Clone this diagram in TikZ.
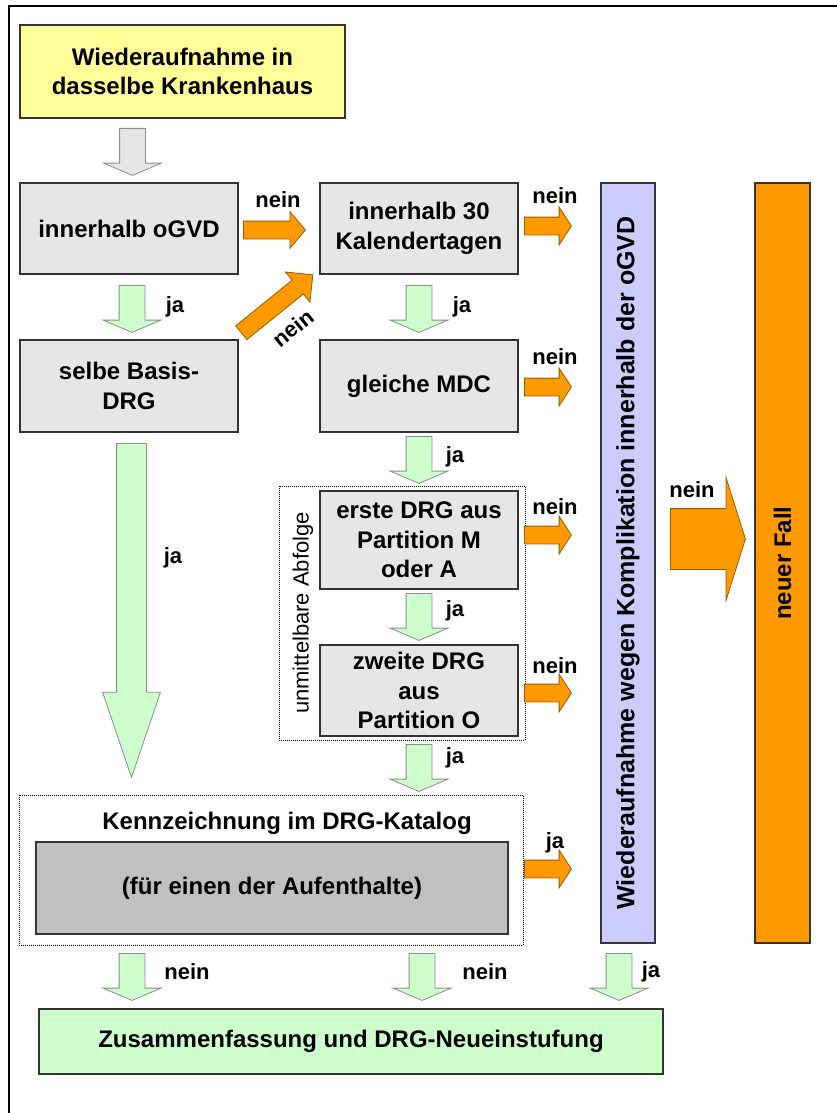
\documentclass[tikz,border=0pt]{standalone}
\usepackage{fontspec}
\setmainfont{Liberation Sans}
\usetikzlibrary{shapes.arrows}

\definecolor{startyellow}{HTML}{FFFF99}
\definecolor{boxgray}{HTML}{E6E6E6}
\definecolor{markgray}{HTML}{C0C0C0}
\definecolor{jagreen}{HTML}{CCFFCC}
\definecolor{neinorange}{HTML}{FF9900}
\definecolor{complila}{HTML}{CCCCFF}

\begin{document}
\begin{tikzpicture}
  [x=1pt,y=-1pt,
   every node/.style={font=\bfseries\fontsize{24}{29.5}\selectfont,align=center,inner sep=0pt},
   box/.style={draw=black!80,line width=1.2pt,fill=boxgray},
   lbl/.style={font=\bfseries\fontsize{22}{24}\selectfont},
   fat/.style n args={4}{single arrow,single arrow head indent=0pt,minimum width=0pt,anchor=tail,
     minimum height=#1,inner sep=#2,single arrow head extend=#3,single arrow tip angle=#4},
   jaarr/.style={fat={47pt}{12.5pt}{16pt}{134},draw=black!45,line width=0.8pt,fill=jagreen,rotate=-90},
   neinarr/.style={fat={47pt}{8.5pt}{10pt}{114},draw=neinorange!60!black,line width=0.8pt,fill=neinorange}]
  \useasboundingbox (0,0) rectangle (837,1113);
  \draw[line width=2.5pt] (837,6) -- (9,6) -- (9,1113);

  % boxes
  \node[box,fill=startyellow,minimum width=325pt,minimum height=93pt] (start) at (182.5,71.5)
    {Wiederaufnahme in\\dasselbe Krankenhaus};
  \node[box,minimum width=218pt,minimum height=91pt] (ogvd) at (129,228.5) {innerhalb oGVD};
  \node[box,minimum width=198pt,minimum height=91pt] (kal) at (419,228.5) {innerhalb 30\\Kalendertagen};
  \node[box,minimum width=218pt,minimum height=92pt] (basis) at (129,386) {selbe Basis-\\DRG};
  \node[box,minimum width=198pt,minimum height=92pt] (mdc) at (419,386) {gleiche MDC};
  \node[draw,densely dotted,line width=1pt,minimum width=246pt,minimum height=254pt] (folge) at (402,613) {};
  \node[rotate=90,font=\fontsize{22}{24}\selectfont] (folgetxt) at (303,613) {unmittelbare Abfolge};
  \node[box,minimum width=198pt,minimum height=98pt] (erste) at (419,540) {erste DRG aus\\Partition M\\oder A};
  \node[box,minimum width=198pt,minimum height=91pt] (zweite) at (419,690.5) {zweite DRG\\aus\\Partition O};
  \node[draw,densely dotted,line width=1pt,minimum width=504pt,minimum height=150pt] (kat) at (271,870) {};
  \node (kattxt) at (287,823) {Kennzeichnung im DRG-Katalog};
  \node[box,fill=markgray,minimum width=472pt,minimum height=92pt] (aufent) at (272,888) {(für einen der Aufenthalte)};
  \node[box,fill=complila,minimum width=54pt,minimum height=760pt] (kompl) at (628,563) {};
  \node[rotate=90,font=\bfseries\fontsize{25}{28}\selectfont] (kompltxt) at (kompl.center)
    {Wiederaufnahme wegen Komplikation innerhalb der oGVD};
  \node[box,fill=neinorange,minimum width=55pt,minimum height=760pt] (fall) at (782.5,563) {};
  \node[rotate=90] (falltxt) at (fall.center) {neuer Fall};
  \node[box,fill=jagreen,minimum width=624pt,minimum height=65pt] (neu) at (351,1041.5)
    {Zusammenfassung und DRG-Neueinstufung};

  % block arrows
  \node[jaarr,fill=boxgray] (g0) at (132.5,128) {};
  \foreach \n/\x/\y/\t/\lx/\ly in {g1/132/285/ja/175/307, g2/419/285/ja/462/307,
      g3/419/436/ja/455/457, g4/419/593/ja/455/611, g5/419/744/ja/455/758,
      g6/132/953/nein/187/972, g7/422/953/nein/485/972, g8/619/953/ja/651/972}
  {
    \node[jaarr] (\n) at (\x,\y) {};
    \node[lbl] (\n-lab) at (\lx,\ly) {\t};
  }
  \foreach \n/\y/\t/\ly in {o1/226/nein/196, o2/387/nein/357, o3/535/nein/507,
      o4/693/nein/666, o5/869/ja/843}
  {
    \node[neinarr] (\n) at (524,\y) {};
    \node[lbl] (\n-lab) at (555,\ly) {\t};
  }
  \node[neinarr,fat={62pt}{8.5pt}{9.5pt}{100}] (o0) at (243,230) {};
  \node[lbl] (o0-lab) at (278,200) {nein};
  \node[neinarr,fat={92pt}{8.5pt}{10.5pt}{90},rotate=39] (od) at (241,333) {};
  \node[lbl,rotate=39] (od-lab) at (293,328) {nein};
  \node[neinarr,fat={75pt}{30pt}{31pt}{145}] (obig) at (670,539) {};
  \node[lbl] (obig-lab) at (692,490) {nein};
  \node[jaarr,fat={334pt}{14.5pt}{14pt}{37.5}] (gbig) at (131.5,443) {};
  \node[lbl] (gbig-lab) at (173,558) {ja};
\end{tikzpicture}
\end{document}
